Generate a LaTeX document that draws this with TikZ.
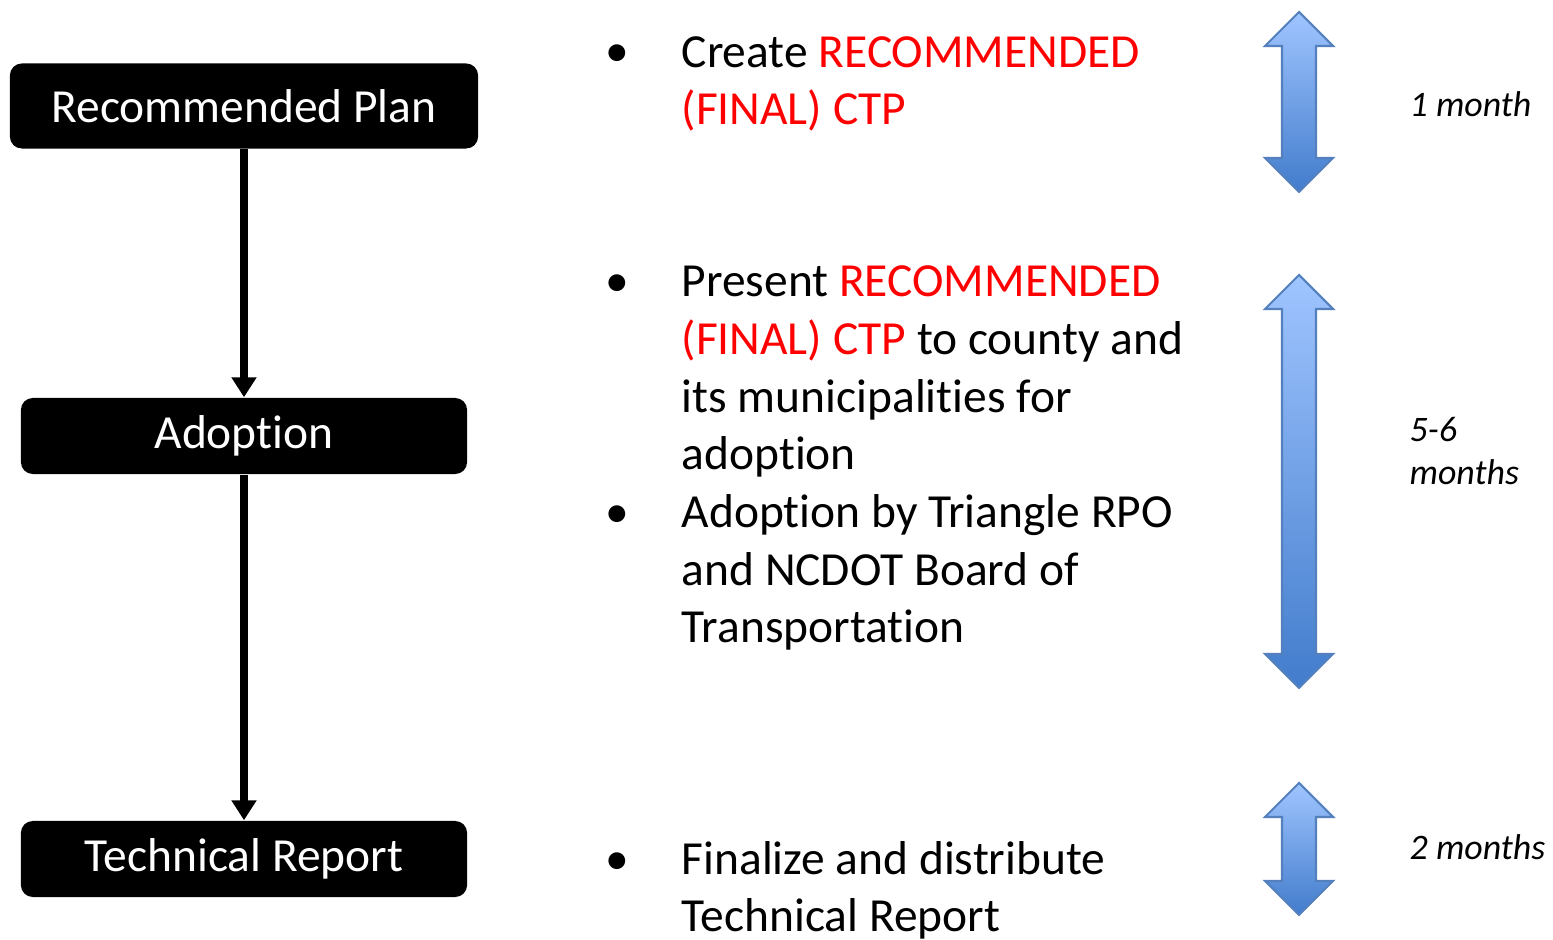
\documentclass[tikz,border=0pt]{standalone}
\usepackage{fontspec}
\setmainfont{Carlito}[RawFeature={-liga;-clig;-calt;-dlig}]
\usepackage{tikz}
\usetikzlibrary{arrows.meta, positioning}
\definecolor{ctpred}{RGB}{255,0,0}
\definecolor{arrowtop}{RGB}{160,197,255}
\definecolor{arrowbot}{RGB}{66,124,204}
\definecolor{arrowline}{RGB}{84,128,190}

\begin{document}
\begin{tikzpicture}[x=0.01cm, y=-0.01cm, >={Triangle[length=0.2cm, width=0.24cm]},
  every node/.style={font=\fontsize{13.5}{16.4}\selectfont},
  stage/.style={fill=black, text=white, rounded corners=0.12cm, minimum width=4.46cm, minimum height=0.76cm, inner sep=0pt},
  point/.style={anchor=base, inner sep=0pt},
  item/.style={anchor=base west, align=left, inner sep=0pt},
  span/.style={anchor=base west, align=left, inner sep=0pt, font=\fontsize{10.2}{12.5}\selectfont\itshape}]
  \useasboundingbox (0,0) rectangle (1553,940);
  % stages
  \node[stage, minimum width=4.68cm, minimum height=0.85cm] (plan) at (244,106) {Recommended Plan};
  \node[stage] (adopt) at (244,436) {Adoption};
  \node[stage] (report) at (244,859) {Technical Report};
  \draw[->, line width=0.07cm] (plan) -- (adopt);
  \draw[->, line width=0.07cm] (adopt) -- (report);
  % bullets (text nodes sit on their last line)
  \node[point] (b1) at (617,67) {\textbullet};
  \node[point] (b2) at (617,297) {\textbullet};
  \node[point] (b3) at (617,528) {\textbullet};
  \node[point] (b4) at (617,875) {\textbullet};
  \node[item] (t1) at (681,125) {Create \textcolor{ctpred}{RECOMMENDED}\\\textcolor{ctpred}{(FINAL) CTP}};
  \node[item] (t2) at (681,470) {Present \textcolor{ctpred}{RECOMMENDED}\\\textcolor{ctpred}{(FINAL) CTP} to county and\\its municipalities for\\adoption};
  \node[item] (t3) at (681,643) {Adoption by Triangle RPO\\and NCDOT Board of\\Transportation};
  \node[item] (t4) at (681,932) {Finalize and distribute\\Technical Report};
  % durations
  \foreach \ya/\yb in {12/192, 275/688, 783/915}
    \draw[top color=arrowtop, bottom color=arrowbot, draw=arrowline, line width=0.6pt]
      (1299,\ya) -- (1333,\ya+34) -- (1316,\ya+34) -- (1316,\yb-34) -- (1333,\yb-34)
      -- (1299,\yb) -- (1265,\yb-34) -- (1282,\yb-34) -- (1282,\ya+34) -- (1265,\ya+34) -- cycle;
  \node[span] (d1) at (1409,117) {1 month};
  \node[span] (d2) at (1409,485) {5-6\\months};
  \node[span] (d3) at (1409,860) {2 months};
\end{tikzpicture}
\end{document}
